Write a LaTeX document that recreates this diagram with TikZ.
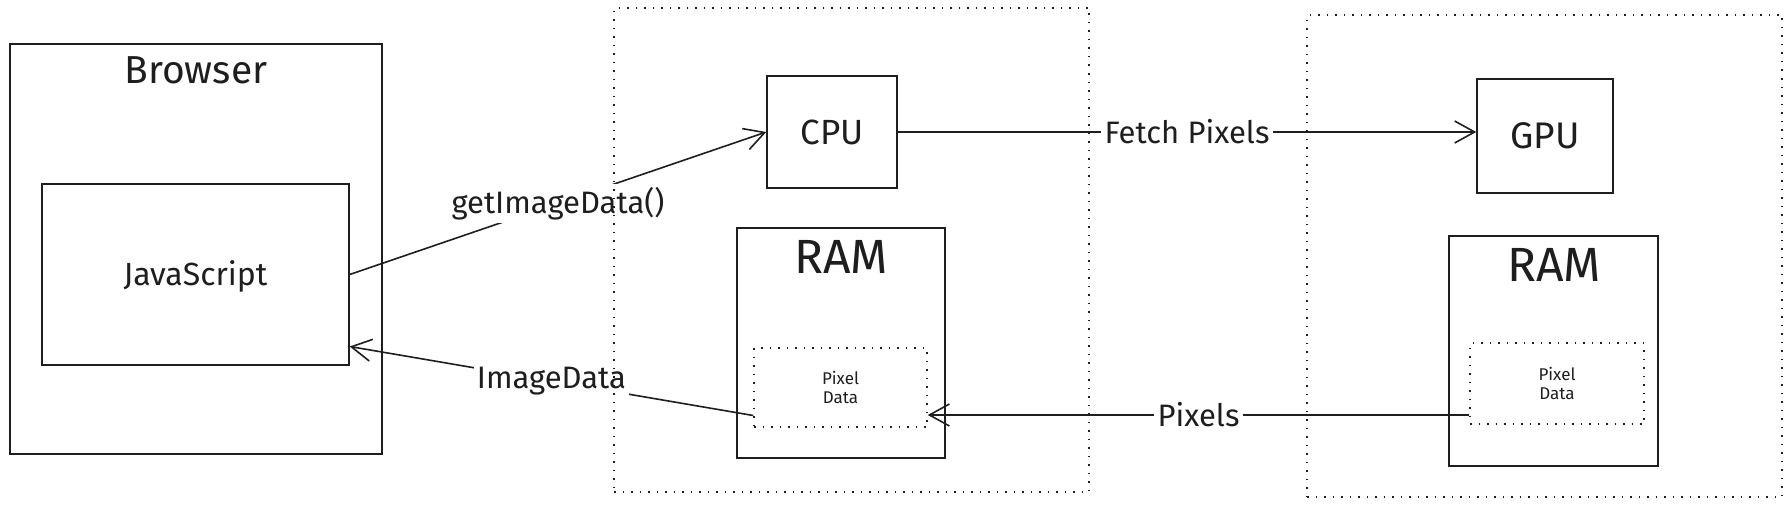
\documentclass[tikz,border=0pt]{standalone}
\usepackage{fontspec}
\setmainfont{Fira Sans}
\usepackage{tikz}
\usetikzlibrary{positioning,arrows.meta,calc}
\definecolor{ink}{HTML}{1E1E1E}
\tikzset{
  box/.style={draw=ink, rectangle, line width=1.4pt, inner sep=0pt},
  dotframe/.style={draw=ink, rectangle, line width=1.5pt, dash pattern=on 1.5pt off 7pt},
  lbl/.style={text=ink, font=\fontsize{31}{36}\selectfont},
  flow/.style={draw=ink, line width=1.6pt, -{Straight Barb[length=20pt,width=22pt,line width=1.6pt]}}
}
\begin{document}
\begin{tikzpicture}[x=1pt, y=-1pt]
    \useasboundingbox (0,0) rectangle (1792,506);
    % browser con JavaScript
    \node[box, minimum width=372pt, minimum height=410pt] (browser) at (196,249) {};
    \node[lbl, font=\fontsize{39}{45}\selectfont] (browsertitle) at (196,70) {Browser};
    \node[box, minimum width=307pt, minimum height=181pt] (js) at (195.5,274.5) {};
    \node[lbl, font=\fontsize{32}{38}\selectfont] (jstext) at (195.5,276) {JavaScript};
    % lato CPU
    \node[box, minimum width=130pt, minimum height=112pt, lbl, font=\fontsize{35}{40}\selectfont] (cpu) at (832,132) {CPU};
    \node[box, minimum width=208pt, minimum height=230pt] (rama) at (841,343) {};
    \node[lbl, font=\fontsize{48}{54}\selectfont] (ramatitle) at (841,257) {RAM};
    \node[dotframe, minimum width=173pt, minimum height=79pt, text=ink, align=center, font=\fontsize{17}{19}\selectfont] (pixa) at (840.5,387.5) {Pixel\\Data};
    % lato GPU
    \node[box, minimum width=136pt, minimum height=114pt, lbl, font=\fontsize{37}{42}\selectfont] (gpu) at (1545,136) {GPU};
    \node[box, minimum width=209pt, minimum height=230pt] (ramb) at (1553.5,351) {};
    \node[lbl, font=\fontsize{48}{54}\selectfont] (rambtitle) at (1554,265) {RAM};
    \node[dotframe, minimum width=174pt, minimum height=81pt, text=ink, align=center, font=\fontsize{17}{19}\selectfont] (pixb) at (1557,383.5) {Pixel\\Data};
    % frecce
    \draw[flow] (js.east) -- (cpu.west) node[midway, lbl, fill=white] {getImageData()};
    \draw[flow] (cpu.east) -- (cpu.east -| gpu.west) node[midway, lbl, fill=white] {Fetch Pixels};
    \draw[flow] ([yshift=-31.5pt]pixb.west) -- ([yshift=-27.5pt]pixa.east) node[midway, lbl, fill=white] {Pixels};
    \draw[flow] ([yshift=-28pt]pixa.west) -- ([yshift=-72pt]js.east) node[midway, lbl, fill=white] {ImageData};
    % riquadri tratteggiati
    \node[dotframe, minimum width=475pt, minimum height=484pt] (cpuside) at (851.5,250) {};
    \node[dotframe, minimum width=475pt, minimum height=482pt] (gpuside) at (1544.5,256) {};
\end{tikzpicture}
\end{document}
